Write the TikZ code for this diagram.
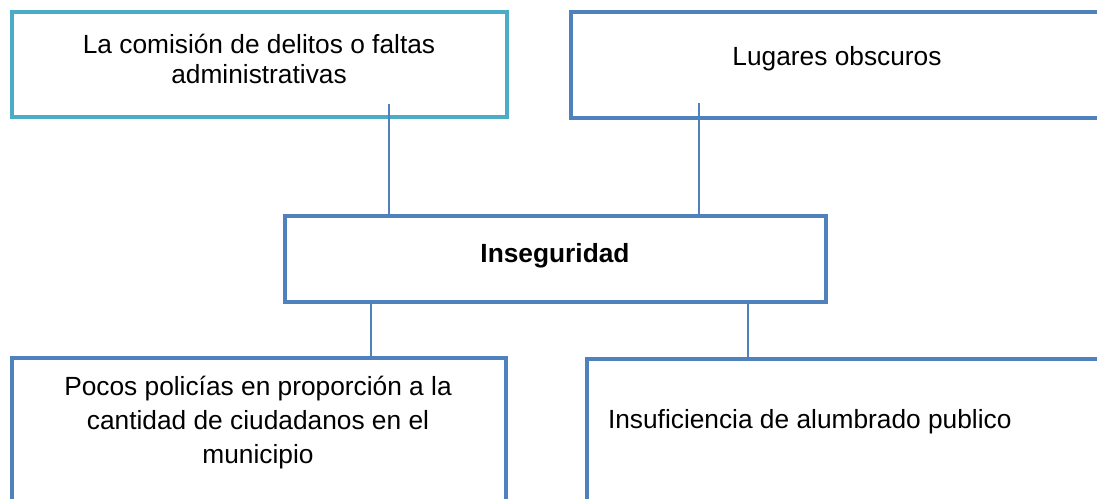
\documentclass[tikz,border=0pt]{standalone}
\usepackage{fontspec}
\setmainfont{Liberation Sans}
\definecolor{teal1}{HTML}{4BACC6}
\definecolor{blue1}{HTML}{4F81BD}
\begin{document}
\begin{tikzpicture}[x=1pt,y=-1pt,
  boxa/.style={draw=blue1,line width=4pt,rectangle,inner sep=0pt,outer sep=0pt,fill=white},
  link/.style={draw=blue1,line width=1.5pt},
  txt/.style={inner sep=0pt,outer sep=0pt,font=\fontsize{26.3}{30}\selectfont},
]
\useasboundingbox[fill=white] (0,0) rectangle (1097,498);
\clip (0,0) rectangle (1097,498);
% boxes
\node[boxa,draw=teal1,minimum width=495pt,minimum height=105pt] (b1) at (259.5,64.5) {};
\node[boxa,minimum width=544pt,minimum height=106pt] (b2) at (843,65) {};
\node[boxa,minimum width=541pt,minimum height=86pt] (b3) at (555.5,259) {};
\node[boxa,minimum width=494pt,minimum height=162pt] (b4) at (259,439) {};
\node[boxa,minimum width=528pt,minimum height=161pt] (b5) at (851,439.5) {};
% connectors
\coordinate (c1) at (389,104);
\coordinate (c2) at (699,103);
\draw[link] (c1) -- (c1 |- b3.north);
\draw[link] (c2) -- (c2 |- b3.north);
\draw[link] (b3.south -| 371,0) -- (b4.north -| 371,0);
\draw[link] (b3.south -| 748,0) -- (b5.north -| 748,0);
% texts
\node[txt,align=center,anchor=base] (t1) at (259,83) {La comisión de delitos o faltas\\administrativas};
\node[txt,anchor=base] (t2) at (837,65) {Lugares obscuros};
\node[txt,anchor=base,font=\fontsize{26.3}{30}\selectfont\bfseries] (t3) at (555,262) {Inseguridad};
\node[txt,align=center,anchor=base,font=\fontsize{26.3}{34}\selectfont] (t4) at (258,463) {Pocos policías en proporción a la\\cantidad de ciudadanos en el\\municipio};
\node[txt,anchor=base west] (t5) at (608,428) {Insuficiencia de alumbrado publico};
\end{tikzpicture}
\end{document}
